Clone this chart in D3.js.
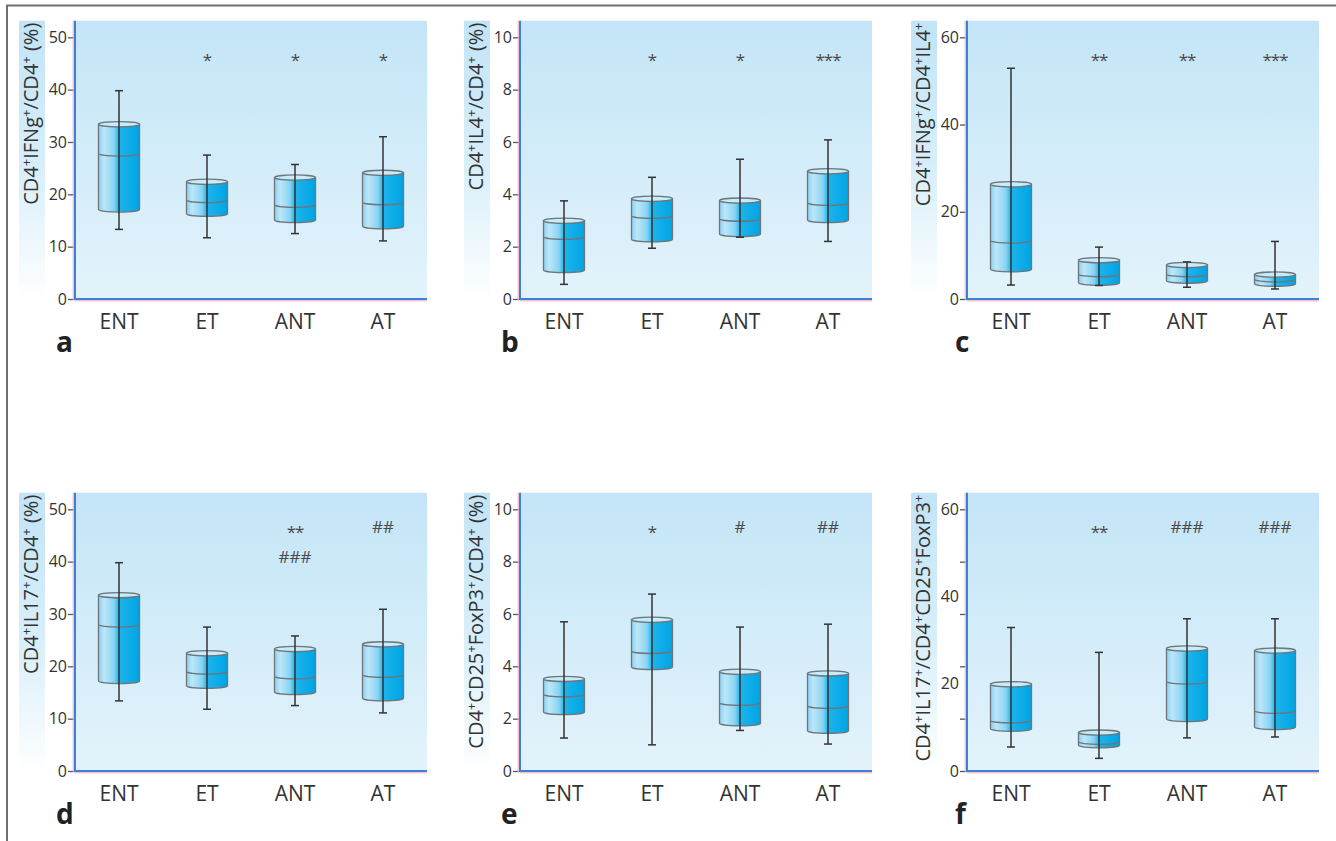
<!DOCTYPE html>
<html>
<head>
<meta charset="utf-8">
<script src="https://cdn.jsdelivr.net/npm/d3@7"></script>
<style>
  body { margin: 0; background: #fff; }
  svg { display: block; font-family: "Open Sans", sans-serif; }
</style>
</head>
<body>
<div id="chart"></div>
<script>
// groups on the x axis
var categories = ["ENT", "ET", "ANT", "AT"];

// box values per group: [min, q1, median, q3, max]
var ifngData = [[13.3, 17.1, 27.8, 33.4, 39.8], [11.7, 16.3, 18.9, 22.4, 27.5], [12.5, 15.1, 18.0, 23.2, 25.7], [11.1, 13.9, 18.5, 24.1, 31.0]];
var il4Data = [[0.56, 1.11, 2.38, 2.99, 3.75], [1.94, 2.28, 3.18, 3.83, 4.65], [2.36, 2.48, 3.07, 3.76, 5.34], [2.20, 3.02, 3.68, 4.88, 6.08]];
var ifngIl4Data = [[3.2, 6.8, 13.4, 26.3, 52.9], [3.1, 3.7, 5.7, 8.9, 11.9], [2.7, 4.2, 5.7, 7.8, 8.5], [2.3, 3.5, 4.5, 5.6, 13.2]];
var il17Data = [[13.4, 17.2, 28.0, 33.6, 39.8], [11.8, 16.3, 19.0, 22.5, 27.5], [12.5, 15.1, 18.1, 23.3, 25.8], [11.1, 13.9, 18.4, 24.2, 30.9]];
var tregData = [[1.26, 2.25, 2.93, 3.52, 5.70], [1.00, 3.97, 4.59, 5.78, 6.76], [1.55, 1.82, 2.61, 3.79, 5.50], [1.03, 1.54, 2.49, 3.73, 5.61]];
var il17TregData = [[5.5, 9.7, 11.6, 19.9, 32.9], [2.9, 5.9, 6.7, 8.8, 27.2], [7.6, 11.9, 20.5, 28.1, 34.9], [7.8, 10.1, 13.8, 27.6, 34.9]];

// y ticks
var ticks50 = [0, 10, 20, 30, 40, 50];
var ticks10 = [0, 2, 4, 6, 8, 10];
var ticks60 = [0, 20, 40, 60];
var marks60f = [0, 12, 24, 36, 48, 60]; // panel f has tick marks that don't match its labels

// y axis titles, "^" = superscript plus
var yTitles = ["CD4^IFNg^/CD4^ (%)", "CD4^IL4^/CD4^ (%)", "CD4^IFNg^/CD4^IL4^",
               "CD4^IL17^/CD4^ (%)", "CD4^CD25^FoxP3^/CD4^ (%)", "CD4^IL17^/CD4^CD25^FoxP3^"];

// significance marks over each group (lines top to bottom)
var sigA = [[], ["*"], ["*"], ["*"]];
var sigB = [[], ["*"], ["*"], ["***"]];
var sigC = [[], ["**"], ["**"], ["***"]];
var sigD = [[], [], ["**", "###"], ["##"]];
var sigE = [[], ["*"], ["#"], ["##"]];
var sigF = [[], ["**"], ["###"], ["###"]];

var panelLetters = ["a", "b", "c", "d", "e", "f"];

var panels = [
  {data: ifngData,     yMax: 50, ticks: ticks50, sig: sigA},
  {data: il4Data,      yMax: 10, ticks: ticks10, sig: sigB},
  {data: ifngIl4Data,  yMax: 60, ticks: ticks60, sig: sigC},
  {data: il17Data,     yMax: 50, ticks: ticks50, sig: sigD},
  {data: tregData,     yMax: 10, ticks: ticks10, sig: sigE},
  {data: il17TregData, yMax: 60, ticks: ticks60, marks: marks60f, sig: sigF}
];

// layout
var W = 1336, H = 841;
var colX = [75, 520, 967];     // y axis position per column
var rowZero = [299, 771];      // y=0 position per row
var letterX = [56, 501, 955];
var plotW = 352, scaleH = 261.7, bgH = 278.3, boxW = 41, ry = 2.6;

var svg = d3.select("#chart")
    .append("svg")
    .attr("width", W)
    .attr("height", H);

var defs = svg.append("defs");

var bg = defs.append("linearGradient").attr("id", "bgGrad")
    .attr("x1", 0).attr("y1", 0).attr("x2", 0).attr("y2", 1);
bg.append("stop").attr("offset", "0%").attr("stop-color", "#c3e5f7");
bg.append("stop").attr("offset", "100%").attr("stop-color", "#e3f3fb");

var strip = defs.append("linearGradient").attr("id", "stripGrad")
    .attr("x1", 0).attr("y1", 0).attr("x2", 0).attr("y2", 1);
strip.append("stop").attr("offset", "0%").attr("stop-color", "#c2e4f6");
strip.append("stop").attr("offset", "55%").attr("stop-color", "#d9effa");
strip.append("stop").attr("offset", "100%").attr("stop-color", "#ffffff");

var cyl = defs.append("linearGradient").attr("id", "cylGrad")
    .attr("x1", 0).attr("y1", 0).attr("x2", 1).attr("y2", 0);
[["0%", "#8ccff0"], ["14%", "#bde7f8"], ["38%", "#86d3f3"], ["50%", "#1db4ec"], ["100%", "#00a4e4"]]
  .forEach(function(s) { cyl.append("stop").attr("offset", s[0]).attr("stop-color", s[1]); });

// frame
svg.append("line").attr("x1", 6).attr("x2", W).attr("y1", 5.5).attr("y2", 5.5)
    .attr("stroke", "#6e6e6e").attr("stroke-width", 2);
svg.append("line").attr("x1", 7).attr("x2", 7).attr("y1", 5).attr("y2", H)
    .attr("stroke", "#6e6e6e").attr("stroke-width", 2);

panels.forEach(function(p, i) {
  var col = i % 3, row = Math.floor(i / 3);
  var ax = colX[col], zero = rowZero[row], top = zero - bgH;

  var y = d3.scaleLinear().domain([0, p.yMax]).range([zero, zero - scaleH]);
  var x = d3.scaleBand().domain(categories).range([ax, ax + plotW]);

  var g = svg.append("g");

  // label strip + plot background
  g.append("rect").attr("x", ax - 56).attr("y", top).attr("width", 26).attr("height", bgH)
      .attr("fill", "url(#stripGrad)");
  g.append("rect").attr("x", ax).attr("y", top).attr("width", plotW).attr("height", bgH)
      .attr("fill", "url(#bgGrad)");

  // y axis ticks
  var yAxis = g.append("g")
      .attr("transform", "translate(" + ax + ",0)")
      .call(d3.axisLeft(y).tickValues(p.marks || p.ticks).tickSize(7).tickPadding(1)
            .tickFormat(p.marks ? function() { return ""; } : d3.format("d")));
  yAxis.select(".domain").remove();
  yAxis.selectAll("line").attr("stroke", "#555").attr("stroke-width", 1.3);
  if (p.marks) {
    var yLabels = g.append("g")
        .attr("transform", "translate(" + ax + ",0)")
        .call(d3.axisLeft(y).tickValues(p.ticks).tickSize(0).tickPadding(8).tickFormat(d3.format("d")));
    yLabels.select(".domain").remove();
    yLabels.selectAll("line").remove();
    yLabels.selectAll("text").attr("fill", "#333").style("font-size", "16px")
        .style("font-family", "'Open Sans', sans-serif");
  }
  yAxis.selectAll("text").attr("fill", "#333").style("font-size", "16px")
      .style("font-family", "'Open Sans', sans-serif");

  // x labels
  var xAxis = g.append("g")
      .attr("transform", "translate(0," + zero + ")")
      .call(d3.axisBottom(x).tickSize(0).tickPadding(15));
  xAxis.select(".domain").remove();
  xAxis.selectAll("text").attr("fill", "#333").style("font-size", "21px")
      .style("font-family", "'Open Sans', sans-serif");

  // axis lines (blue with pink edge)
  g.append("line").attr("x1", ax - 1.8).attr("x2", ax - 1.8).attr("y1", top).attr("y2", zero + 1)
      .attr("stroke", "#f0a6c0").attr("stroke-width", 1);
  g.append("line").attr("x1", ax).attr("x2", ax + plotW).attr("y1", zero + 1.8).attr("y2", zero + 1.8)
      .attr("stroke", "#f0a6c0").attr("stroke-width", 1);
  g.append("line").attr("x1", ax).attr("x2", ax).attr("y1", top).attr("y2", zero)
      .attr("stroke", "#3f7fd8").attr("stroke-width", 2);
  g.append("line").attr("x1", ax - 1).attr("x2", ax + plotW).attr("y1", zero).attr("y2", zero)
      .attr("stroke", "#3f7fd8").attr("stroke-width", 2);

  // cylinders
  var boxes = g.selectAll("g.box")
      .data(p.data)
      .enter()
      .append("g")
      .attr("class", "box");

  boxes.each(function(d, j) {
    var b = d3.select(this);
    var cx = x(categories[j]) + x.bandwidth() / 2;
    var x0 = cx - boxW / 2, x1 = cx + boxW / 2, rx = boxW / 2;
    var yT = y(d[3]), yB = y(d[1]), yM = y(d[2]);

    b.append("path")
        .attr("d", "M" + x0 + "," + yT + "L" + x0 + "," + yB +
              "A" + rx + "," + ry + " 0 0 0 " + x1 + "," + yB +
              "L" + x1 + "," + yT + "Z")
        .attr("fill", "url(#cylGrad)")
        .attr("stroke", "#6c767b").attr("stroke-width", 1.3);
    b.append("path")
        .attr("d", "M" + x0 + "," + yM + "A" + rx + "," + ry + " 0 0 0 " + x1 + "," + yM)
        .attr("fill", "none")
        .attr("stroke", "#6c767b").attr("stroke-width", 1.3);
    b.append("ellipse")
        .attr("cx", cx).attr("cy", yT).attr("rx", rx).attr("ry", ry)
        .attr("fill", "#c8ebfa")
        .attr("stroke", "#6c767b").attr("stroke-width", 1.3);

    // whisker
    b.append("line").attr("x1", cx).attr("x2", cx).attr("y1", y(d[4])).attr("y2", y(d[0]))
        .attr("stroke", "#333").attr("stroke-width", 1.5);
    [d[0], d[4]].forEach(function(v) {
      b.append("line").attr("x1", cx - 4).attr("x2", cx + 4).attr("y1", y(v)).attr("y2", y(v))
          .attr("stroke", "#333").attr("stroke-width", 1.5);
    });
  });

  // significance marks
  p.sig.forEach(function(lines, j) {
    var cx = x(categories[j]) + x.bandwidth() / 2;
    lines.forEach(function(s, k) {
      var base = top + 34 + k * 30 + (s.charAt(0) === "*" ? 11 : 6.5);
      g.append("text")
          .attr("x", cx).attr("y", base)
          .attr("text-anchor", "middle")
          .attr("fill", "#4a4a4a")
          .style("font-size", "17px")
          .style("letter-spacing", s.charAt(0) === "*" ? "-1px" : "0px")
          .text(s);
    });
  });

  // y axis title
  var title = g.append("text")
      .attr("transform", "translate(" + (ax - 37) + "," + (top + 2) + ") rotate(-90)")
      .attr("text-anchor", "end")
      .attr("fill", "#333")
      .style("font-size", "20px");
  var parts = yTitles[i].split("^");
  parts.forEach(function(t, k) {
    if (t) title.append("tspan").text(t).attr("dy", k > 0 ? 7 : 0);
    if (k < parts.length - 1) {
      title.append("tspan").text("+").style("font-size", "13px").attr("dy", t ? -7 : 0);
    }
  });

  // panel letter
  g.append("text")
      .attr("x", letterX[col]).attr("y", zero + 53)
      .attr("fill", "#222")
      .style("font-size", "28px")
      .style("font-weight", "bold")
      .text(panelLetters[i]);
});
</script>
</body>
</html>
